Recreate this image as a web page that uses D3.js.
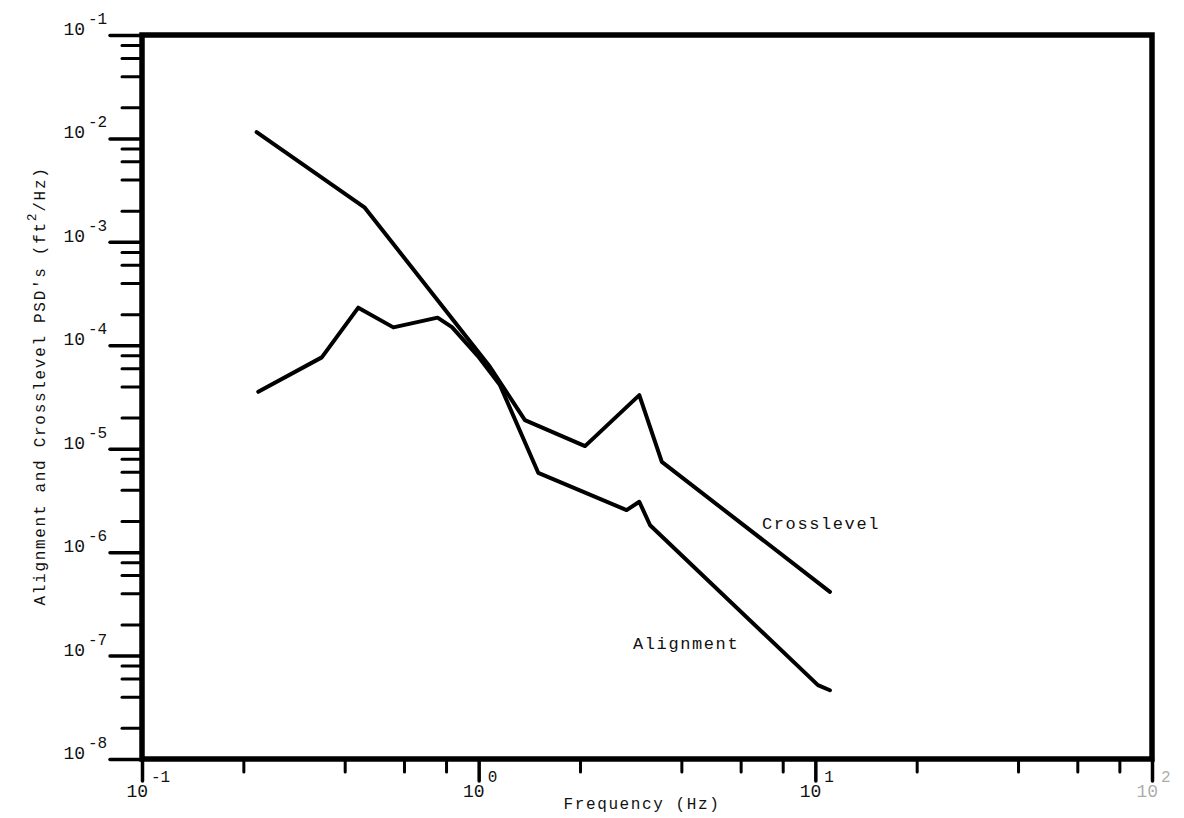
<!DOCTYPE html>
<html>
<head>
<meta charset="utf-8">
<script src="https://cdn.jsdelivr.net/npm/d3@7"></script>
<style>
  html, body { margin: 0; padding: 0; background: #fff; }
  svg { display: block; }
  text { font-family: "Liberation Mono", "DejaVu Sans Mono", monospace; fill: #111; }
</style>
</head>
<body>
<svg id="chart" width="1184" height="818"></svg>
<script>
// Frequency (Hz) and PSD (ft^2/Hz) breakpoints for each curve
const crosslevelFreq = [0.219, 0.459, 1.08, 1.372, 2.07, 3.0, 3.5, 11.05];
const crosslevelPsd  = [1.15e-2, 2.14e-3, 6.2e-5, 1.89e-5, 1.06e-5, 3.3e-5, 7.46e-6, 4.13e-7];

const alignmentFreq = [0.2215, 0.342, 0.439, 0.558, 0.755, 0.833, 0.995, 1.157, 1.503, 2.75, 3.0, 3.23, 10.18, 11.05];
const alignmentPsd  = [3.55e-5, 7.64e-5, 2.31e-4, 1.49e-4, 1.85e-4, 1.50e-4, 7.87e-5, 4.12e-5, 5.85e-6, 2.55e-6, 3.07e-6, 1.82e-6, 5.18e-8, 4.62e-8];

// Axis decades (exponents) and minor tick mantissas
const xDecades = [-1, 0, 1, 2];
const yDecades = [-8, -7, -6, -5, -4, -3, -2, -1];
const minorMantissas = [2, 4, 6, 8];

const svg = d3.select("#chart");
const plotLeft = 142, plotRight = 1152, plotTop = 35, plotBottom = 759;

const x = d3.scaleLog().domain([0.1, 100]).range([plotLeft, plotRight]);
const y = d3.scaleLog().domain([1e-8, 1e-1]).range([plotBottom, plotTop]);

const xMajor = xDecades.map(e => Math.pow(10, e));
const yMajor = yDecades.map(e => Math.pow(10, e));
const minorOf = decs => {
  const out = [];
  decs.slice(0, -1).forEach(e => minorMantissas.forEach(m => out.push(m * Math.pow(10, e))));
  return out;
};
const xMinor = minorOf(xDecades);
const yMinor = minorOf(yDecades);

function styleTicks(g, w) {
  g.select(".domain").remove();
  g.selectAll(".tick text").remove();
  g.selectAll(".tick line").attr("stroke", "#000").attr("stroke-width", w).attr("stroke-linecap", "round");
}

// x axis ticks (outward, below the frame)
svg.append("g").attr("transform", `translate(0,${plotBottom})`)
  .call(d3.axisBottom(x).tickValues(xMinor).tickSize(13))
  .call(g => styleTicks(g, 3));
svg.append("g").attr("transform", `translate(0,${plotBottom})`)
  .call(d3.axisBottom(x).tickValues(xMajor).tickSize(22))
  .call(g => styleTicks(g, 3.5));

// y axis ticks (outward, left of the frame)
svg.append("g").attr("transform", `translate(${plotLeft},0)`)
  .call(d3.axisLeft(y).tickValues(yMinor).tickSize(20))
  .call(g => styleTicks(g, 3));
svg.append("g").attr("transform", `translate(${plotLeft},0)`)
  .call(d3.axisLeft(y).tickValues(yMajor).tickSize(32))
  .call(g => styleTicks(g, 3.5));

// plot frame
svg.append("rect")
  .attr("x", plotLeft).attr("y", plotTop)
  .attr("width", plotRight - plotLeft).attr("height", plotBottom - plotTop)
  .attr("fill", "none").attr("stroke", "#000").attr("stroke-width", 5.5);

// y tick labels: 10 with superscript exponent
yDecades.forEach(e => {
  const ty = y(Math.pow(10, e));
  svg.append("text").attr("x", 85).attr("y", ty)
    .attr("text-anchor", "end").attr("font-size", 18).text("10");
  svg.append("text").attr("x", 88).attr("y", ty - 11)
    .attr("font-size", 16).text("-" + Math.abs(e));
});

// x tick labels
xDecades.forEach(e => {
  const tx = x(Math.pow(10, e));
  const faded = e === 2;
  const g = svg.append("g").attr("opacity", faded ? 0.35 : 1);
  g.append("text").attr("x", tx + 6).attr("y", 797)
    .attr("text-anchor", "end").attr("font-size", 18).text("10");
  g.append("text").attr("x", tx + 9).attr("y", 782)
    .attr("font-size", 16).text(e < 0 ? "-" + Math.abs(e) : String(e));
});

// axis titles
svg.append("text").attr("x", 642).attr("y", 809)
  .attr("text-anchor", "middle").attr("font-size", 16).attr("letter-spacing", 1.6)
  .text("Frequency (Hz)");

const yTitle = svg.append("text")
  .attr("transform", "translate(45,386) rotate(-90)")
  .attr("text-anchor", "middle").attr("font-size", 16).attr("letter-spacing", 1.7);
yTitle.append("tspan").text("Alignment and Crosslevel PSD's (ft");
yTitle.append("tspan").attr("dy", -9).attr("font-size", 13).text("2");
yTitle.append("tspan").attr("dy", 9).text("/Hz)");

// curves
const line = d3.line().x(d => x(d[0])).y(d => y(d[1]));
const crossPts = crosslevelFreq.map((f, i) => [f, crosslevelPsd[i]]);
const alignPts = alignmentFreq.map((f, i) => [f, alignmentPsd[i]]);

[crossPts, alignPts].forEach(pts => {
  svg.append("path").datum(pts).attr("d", line)
    .attr("fill", "none").attr("stroke", "#000").attr("stroke-width", 4)
    .attr("stroke-linejoin", "round").attr("stroke-linecap", "round");
});

// curve labels
svg.append("text").attr("x", 762).attr("y", 529)
  .attr("font-size", 17).attr("letter-spacing", 1.6).text("Crosslevel");
svg.append("text").attr("x", 633).attr("y", 649)
  .attr("font-size", 17).attr("letter-spacing", 1.6).text("Alignment");
</script>
</body>
</html>
